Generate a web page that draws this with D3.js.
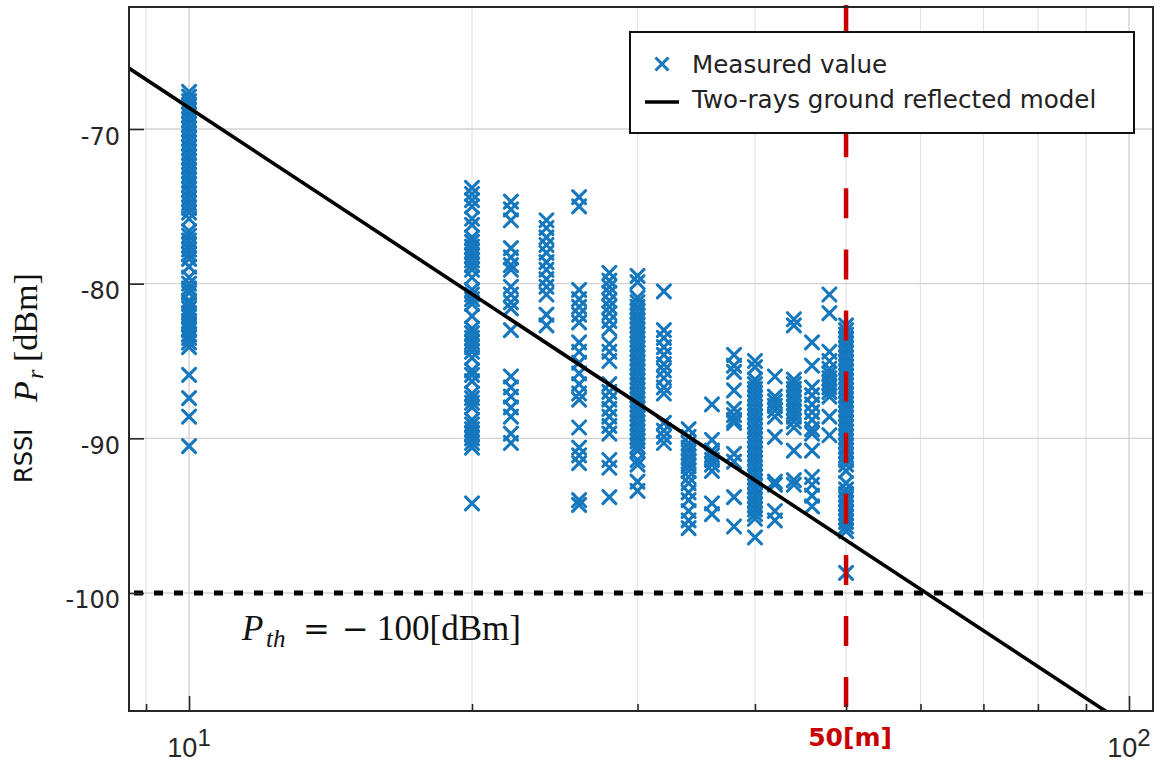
<!DOCTYPE html>
<html>
<head>
<meta charset="utf-8">
<script src="https://cdn.jsdelivr.net/npm/d3@7"></script>
<style>
  html, body { margin: 0; padding: 0; background: #fff; }
  svg { display: block; }
</style>
</head>
<body>
<svg id="chart" width="1162" height="765"></svg>
<script>
// ---- Data ---------------------------------------------------------------
// Measurement distances [m]
const distances = [10, 20, 22, 24, 26, 28, 30, 32, 34, 36, 38, 40, 42, 44, 46, 48, 50];

// Received signal strength samples [dBm] at each distance
const rssiAt10 = [-67.6, -67.9, -68.2, -68.5, -68.8, -69.1, -69.4, -69.7, -70.0, -70.3, -70.6, -70.9,
  -71.2, -71.5, -71.8, -72.1, -72.4, -72.7, -73.0, -73.3, -73.6, -73.9, -74.2, -74.5, -74.8, -75.1,
  -75.4, -75.8, -76.6, -76.9, -77.2, -77.5, -77.8, -78.1, -78.4, -78.9, -79.6, -80.0, -80.3, -80.6,
  -81.1, -81.3, -81.6, -81.9, -82.1, -82.4, -82.6, -82.9, -83.0, -83.3, -83.5, -83.8, -84.1,
  -85.9, -87.4, -88.6, -90.5];
const rssiAt20 = [-73.8, -74.2, -74.6, -75.0, -75.8, -76.2, -77.0, -77.3, -77.6, -77.9, -78.2, -78.5,
  -78.8, -79.1, -79.6, -80.4, -80.7, -81.0, -81.3, -82.1, -82.9, -83.2, -83.5, -83.8, -84.1, -84.4,
  -84.8, -85.6, -85.9, -86.3, -87.1, -87.4, -87.7, -88.0, -88.8, -89.1, -89.4, -89.7, -90.0, -90.3,
  -90.6, -94.2];
const rssiAt22 = [-74.7, -75.2, -75.9, -77.7, -78.3, -78.8, -79.1, -80.2, -80.7, -81.2, -81.6, -83.0,
  -86.0, -86.7, -87.3, -88.0, -88.6, -89.7, -90.3];
const rssiAt24 = [-75.9, -76.4, -77.0, -77.5, -78.0, -78.6, -79.1, -79.7, -80.2, -80.7, -82.0, -82.7];
const rssiAt26 = [-74.4, -75.0, -80.4, -81.0, -81.5, -82.0, -82.5, -83.8, -84.4, -85.1, -85.8, -86.5,
  -87.1, -87.5, -89.3, -90.6, -91.1, -91.6, -94.0, -94.3];
const rssiAt28 = [-79.3, -79.8, -80.2, -80.6, -81.1, -81.5, -81.9, -82.4, -82.9, -83.9, -84.4, -85.0,
  -86.5, -87.0, -87.5, -88.1, -88.6, -89.2, -89.7, -91.4, -91.9, -93.8];
const rssiAt30 = [-79.5, -79.9, -80.9, -81.2, -81.5, -81.8, -82.1, -82.4, -82.7, -83.0, -83.3, -83.6,
  -83.9, -84.2, -84.5, -84.8, -85.1, -85.4, -85.7, -86.0, -86.3, -86.6, -86.9, -87.2, -87.5, -87.8,
  -88.1, -88.4, -88.7, -89.0, -89.3, -89.6, -89.9, -90.2, -90.5, -90.8, -91.4, -91.7, -92.8, -93.4];
const rssiAt32 = [-80.5, -83.0, -83.5, -84.1, -84.6, -85.2, -85.6, -86.1, -86.7, -87.1, -89.0, -89.5,
  -89.9, -90.3];
const rssiAt34 = [-89.4, -89.9, -90.3, -90.6, -90.9, -91.2, -91.5, -91.8, -92.1, -92.5, -92.9, -93.5,
  -94.0, -94.7, -95.3, -95.8];
const rssiAt36 = [-87.8, -90.1, -90.8, -91.1, -91.4, -91.7, -92.1, -94.2, -94.9];
const rssiAt38 = [-84.6, -85.3, -85.7, -86.9, -88.1, -88.5, -88.8, -89.0, -91.0, -91.5, -93.8, -95.7];
const rssiAt40 = [-85.0, -85.4, -86.2, -86.5, -86.8, -87.1, -87.4, -87.7, -88.0, -88.3, -88.6, -88.9,
  -89.2, -89.5, -89.8, -90.1, -90.4, -90.7, -91.0, -91.3, -91.6, -91.9, -92.2, -92.5, -92.8, -93.1,
  -93.4, -93.7, -94.0, -94.3, -94.6, -94.9, -95.2, -96.4];
const rssiAt42 = [-86.0, -87.3, -87.6, -87.9, -88.2, -88.6, -89.9, -92.8, -93.0, -94.7, -95.3];
const rssiAt44 = [-82.3, -82.7, -86.2, -86.5, -86.8, -87.1, -87.4, -87.7, -88.0, -88.3, -88.6, -88.9,
  -89.3, -90.8, -92.7, -93.0];
const rssiAt46 = [-83.8, -85.3, -86.7, -87.2, -87.8, -88.3, -88.8, -89.4, -89.7, -90.8, -92.5, -93.0,
  -93.7, -94.4];
const rssiAt48 = [-80.7, -81.9, -84.4, -85.0, -85.5, -85.8, -86.1, -86.4, -86.7, -87.0, -87.3, -88.6,
  -89.8];
const rssiAt50 = [-82.7, -83.0, -83.3, -83.6, -83.9, -84.2, -84.5, -84.8, -85.1, -85.4, -85.7, -86.0,
  -86.3, -86.6, -86.9, -87.2, -87.5, -87.8, -88.1, -88.4, -88.7, -89.0, -89.3, -89.6, -89.9, -90.2,
  -90.5, -90.8, -91.1, -91.4, -91.7, -92.1, -92.9, -93.3, -93.6, -93.9, -94.2, -94.5, -94.8, -95.1,
  -95.4, -95.7, -96.0, -98.7];

const rssiSamples = [rssiAt10, rssiAt20, rssiAt22, rssiAt24, rssiAt26, rssiAt28, rssiAt30, rssiAt32,
  rssiAt34, rssiAt36, rssiAt38, rssiAt40, rssiAt42, rssiAt44, rssiAt46, rssiAt48, rssiAt50];

// Two-ray ground reflection model (straight line on a log-distance axis): end points
const modelDistance = [8, 110];
const modelRssi = [-64.75, -110.29];

// Receiver sensitivity threshold and the marked distance
const thresholdRssi = -100;
const markedDistance = 50;

// Axis ticks
const xMajorTicks = [10, 100];
const xMajorLabels = [["10", "1"], ["10", "2"]];
const xMinorTicks = [9, 20, 30, 40, 50, 60, 70, 80, 90];
const yTicks = [-100, -90, -80, -70];
const yTickLabels = ["-100", "-90", "-80", "-70"];

const legendLabels = ["Measured value", "Two-rays ground reflected model"];

// ---- Layout -------------------------------------------------------------
const W = 1162, H = 765;
const margin = { top: 7, right: 9, bottom: 54, left: 129 };
const plotW = W - margin.left - margin.right;
const plotH = H - margin.top - margin.bottom;

const x = d3.scaleLog().domain([8.632, 106.05]).range([margin.left, margin.left + plotW]);
const y = d3.scaleLinear().domain([-107.63, -62.11]).range([margin.top + plotH, margin.top]);

const BLUE = "#1577bd";
const RED = "#c80000";
const AXIS = "#262626";
const SANS = "'DejaVu Sans', sans-serif";
const SERIF = "'Liberation Serif', 'Times New Roman', serif";

const svg = d3.select("#chart");

svg.append("defs").append("clipPath").attr("id", "plotClip")
  .append("rect")
  .attr("x", margin.left).attr("y", margin.top)
  .attr("width", plotW).attr("height", plotH);

// ---- Grid ---------------------------------------------------------------
const grid = svg.append("g").attr("class", "grid");
grid.selectAll("line.xminor").data(xMinorTicks).join("line")
  .attr("x1", d => x(d)).attr("x2", d => x(d))
  .attr("y1", margin.top).attr("y2", margin.top + plotH)
  .attr("stroke", "#e4e4e4").attr("stroke-width", 1.2);
grid.selectAll("line.xmajor").data(xMajorTicks).join("line")
  .attr("x1", d => x(d)).attr("x2", d => x(d))
  .attr("y1", margin.top).attr("y2", margin.top + plotH)
  .attr("stroke", "#cfcfcf").attr("stroke-width", 1.3);
grid.selectAll("line.y").data(yTicks).join("line")
  .attr("x1", margin.left).attr("x2", margin.left + plotW)
  .attr("y1", d => y(d)).attr("y2", d => y(d))
  .attr("stroke", "#d2d2d2").attr("stroke-width", 1.3);

// ---- Measured points ----------------------------------------------------
const points = [];
distances.forEach((d, i) => rssiSamples[i].forEach(v => points.push({ d, v })));

const crossPath = "M-6.5,-6.5L6.5,6.5M-6.5,6.5L6.5,-6.5";
const plot = svg.append("g").attr("clip-path", "url(#plotClip)");

plot.append("g").selectAll("path").data(points).join("path")
  .attr("d", crossPath)
  .attr("transform", p => `translate(${x(p.d)},${y(p.v)})`)
  .attr("fill", "none")
  .attr("stroke", BLUE)
  .attr("stroke-width", 3.1)
  .attr("stroke-linecap", "round");

// ---- Model line ---------------------------------------------------------
const model = modelDistance.map((d, i) => ({ d, v: modelRssi[i] }));
plot.append("path").datum(model)
  .attr("d", d3.line().x(p => x(p.d)).y(p => y(p.v)))
  .attr("fill", "none").attr("stroke", "#000").attr("stroke-width", 3.6);

// ---- Threshold line -----------------------------------------------------
plot.append("line")
  .attr("x1", margin.left).attr("x2", margin.left + plotW)
  .attr("y1", y(thresholdRssi)).attr("y2", y(thresholdRssi))
  .attr("stroke", "#000").attr("stroke-width", 5)
  .attr("stroke-dasharray", "9,11").attr("stroke-dashoffset", 15);

// ---- Marked distance ----------------------------------------------------
svg.append("line")
  .attr("x1", x(markedDistance)).attr("x2", x(markedDistance))
  .attr("y1", y.range()[1] - 2).attr("y2", y.range()[0])
  .attr("stroke", RED).attr("stroke-width", 4.5)
  .attr("stroke-dasharray", "30,31.1");

svg.append("text")
  .attr("x", x(markedDistance) + 4).attr("y", 746)
  .attr("text-anchor", "middle")
  .style("font-family", SANS)
  .style("font-weight", "bold").style("font-size", "25px")
  .attr("fill", RED)
  .text("50[m]");

// ---- Threshold annotation -----------------------------------------------
const pth = svg.append("g").attr("fill", "#111");
pth.append("text").attr("x", 242).attr("y", 640)
  .style("font-family", SERIF).style("font-size", "35px").style("font-style", "italic").text("P");
pth.append("text").attr("x", 266).attr("y", 647)
  .style("font-family", SERIF).style("font-size", "25px").style("font-style", "italic").text("th");
pth.append("text").attr("x", 303).attr("y", 640)
  .style("font-family", "'DejaVu Serif', serif").style("font-size", "32px").text("=");
pth.append("text").attr("x", 342).attr("y", 640)
  .style("font-family", "'DejaVu Serif', serif").style("font-size", "32px").text("\u2212");
pth.append("text").attr("x", 377).attr("y", 640)
  .style("font-family", SERIF).style("font-size", "35px").text("100[dBm]");

// ---- Axes ---------------------------------------------------------------
const axes = svg.append("g").attr("class", "axes");

const xMinorAxis = axes.append("g")
  .attr("transform", `translate(0,${margin.top + plotH})`)
  .call(d3.axisBottom(x).tickValues(xMinorTicks).tickSize(-7).tickFormat(""));
const xMajorAxis = axes.append("g")
  .attr("transform", `translate(0,${margin.top + plotH})`)
  .call(d3.axisBottom(x).tickValues(xMajorTicks).tickSize(-15).tickFormat(""));
const yAxis = axes.append("g")
  .attr("transform", `translate(${margin.left},0)`)
  .call(d3.axisLeft(y).tickValues(yTicks).tickSize(-15).tickPadding(9)
    .tickFormat((d, i) => yTickLabels[i]));

[xMinorAxis, xMajorAxis, yAxis].forEach(g => {
  g.select(".domain").remove();
  g.selectAll(".tick line").attr("stroke", AXIS).attr("stroke-width", 1.6);
});
yAxis.attr("font-size", null).attr("font-family", null);
yAxis.selectAll(".tick text")
  .attr("dy", 15)
  .style("font-family", SANS)
  .style("font-size", "24px")
  .attr("fill", AXIS);

// x tick labels with superscript exponents
const xLabels = axes.append("g").selectAll("text").data(xMajorTicks).join("text")
  .attr("x", d => x(d)).attr("y", 757)
  .attr("text-anchor", "middle")
  .style("font-family", "'Liberation Sans', Arial, sans-serif")
  .style("font-size", "27px").attr("fill", AXIS);
xLabels.append("tspan").text((d, i) => xMajorLabels[i][0]);
xLabels.append("tspan").attr("dy", -11).style("font-size", "24px").text((d, i) => xMajorLabels[i][1]);

// plot frame
axes.append("rect")
  .attr("x", margin.left).attr("y", margin.top)
  .attr("width", plotW).attr("height", plotH)
  .attr("fill", "none").attr("stroke", AXIS).attr("stroke-width", 2);

// y axis title: "RSSI  P_r [dBm]", read bottom to top
const yTitle = svg.append("g")
  .attr("transform", "translate(35,483) rotate(-90)")
  .attr("fill", "#111");
yTitle.append("text").attr("x", 0).attr("y", -3)
  .style("font-family", SANS).style("font-size", "24px").text("RSSI");
yTitle.append("text").attr("x", 81).attr("y", 2)
  .style("font-family", SERIF).style("font-size", "34px").style("font-style", "italic").text("P");
yTitle.append("text").attr("x", 104).attr("y", 8)
  .style("font-family", SERIF).style("font-size", "24px").style("font-style", "italic").text("r");
yTitle.append("text").attr("x", 121).attr("y", 2)
  .style("font-family", SERIF).style("font-size", "34px").text("[dBm]");

// ---- Legend -------------------------------------------------------------
const legend = svg.append("g").attr("class", "legend");
legend.append("rect")
  .attr("x", 630).attr("y", 32).attr("width", 504).attr("height", 101)
  .attr("fill", "#fff").attr("stroke", "#111").attr("stroke-width", 2);
legend.append("path")
  .attr("d", crossPath)
  .attr("transform", "translate(662,64)")
  .attr("fill", "none").attr("stroke", BLUE).attr("stroke-width", 3);
legend.append("line")
  .attr("x1", 645).attr("x2", 679).attr("y1", 102).attr("y2", 102)
  .attr("stroke", "#000").attr("stroke-width", 3.4);
legend.selectAll("text.item").data(legendLabels).join("text")
  .attr("x", 692).attr("y", (d, i) => i === 0 ? 73 : 108)
  .style("font-family", SANS).style("font-size", "24.6px")
  .attr("fill", "#222")
  .text(d => d);
</script>
</body>
</html>
